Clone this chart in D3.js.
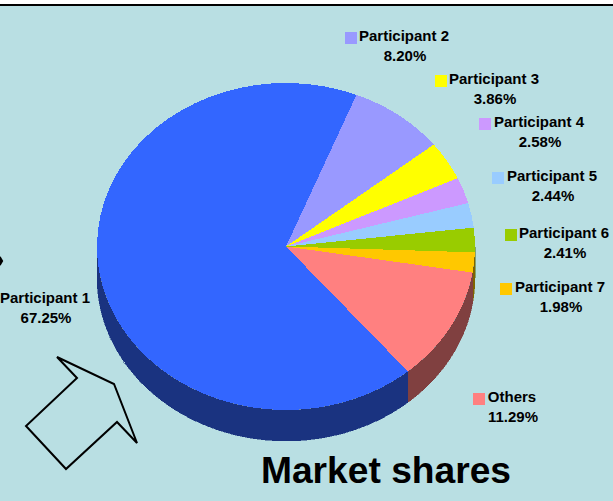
<!DOCTYPE html>
<html><head><meta charset="utf-8">
<script src="https://d3js.org/d3.v7.min.js"></script>
<style>html,body{margin:0;padding:0;background:#b9dfe3;overflow:hidden}svg{display:block}text{font-family:"Liberation Sans",Arial,sans-serif;font-weight:bold;fill:#000}</style>
</head><body><script>
const categories=["Participant 2","Participant 3","Participant 4","Participant 5","Participant 6","Participant 7","Others","Participant 1"];
const shares=[8.20,3.86,2.58,2.44,2.41,1.98,11.29,67.25];
const topColors=["#9999ff","#ffff00","#cc99ff","#99ccff","#99cc00","#ffc800","#ff8080","#3366ff"];
const sideColors=["#4d4d80","#808000","#664d80","#4d6680","#4d6600","#806400","#804040","#1a3380"];
const labelX=[404,494,539,552,564,560,512,45];
const labelY=[41,84,127,181,238,292,402,303];
const swatchX=[345,435,479,492,505,500,473,null];
const titleText="Market shares";
const arrowShape=[[57,357],[77,378],[26,426],[66,469],[117,422],[137,443],[114,384]];

const W=613,H=501,cx=286,cy=246.5,rx=189,ry=163.5,depth=31,start=21.9*Math.PI/180;
const svg=d3.select("body").append("svg").attr("width",W).attr("height",H);
svg.append("rect").attr("width",W).attr("height",H).attr("fill","#b9dfe3");
svg.append("rect").attr("width",W).attr("height",4).attr("fill","#fff");
svg.append("rect").attr("y",4).attr("width",W).attr("height",2).attr("fill","#000");

const arcs=d3.pie().sort(null).value(d=>d).startAngle(start).endAngle(start+2*Math.PI)(shares);
const px=a=>cx+rx*Math.sin(a), py=a=>cy-ry*Math.cos(a);
const line=d3.line();
const lo=Math.PI/2, hi=3*Math.PI/2;
// side walls: only the front half of the rim is visible
arcs.forEach((d,i)=>{
  [[d.startAngle,d.endAngle],[d.startAngle+2*Math.PI,d.endAngle+2*Math.PI]].forEach(([s,e])=>{
    const a0=Math.max(s,lo),a1=Math.min(e,hi);
    if(a1<=a0) return;
    const t=d3.scaleLinear().domain([0,80]).range([a0,a1]);
    const rim=d3.range(81).map(k=>t(k));
    const pts=rim.map(a=>[px(a),py(a)]).concat(rim.slice().reverse().map(a=>[px(a),py(a)+depth]));
    svg.append("path").attr("d",line(pts)+"Z").attr("fill",sideColors[i]).attr("stroke",sideColors[i]).attr("stroke-width",.5).attr("shape-rendering","crispEdges");
  });
});
// top face
const arc=d3.arc().innerRadius(0).outerRadius(rx);
const g=svg.append("g").attr("transform",`translate(${cx},${cy}) scale(1,${ry/rx})`).attr("shape-rendering","crispEdges");
g.selectAll("path").data(arcs).join("path").attr("d",arc).attr("fill",(d,i)=>topColors[i]);

// labels
categories.forEach((c,i)=>{
  const t=svg.append("text").attr("font-size",15).attr("text-anchor","middle");
  t.append("tspan").attr("x",labelX[i]).attr("y",labelY[i]).text(c);
  t.append("tspan").attr("x",labelX[i]+1).attr("y",labelY[i]+20).text(shares[i].toFixed(2)+"%");
  if(swatchX[i]!==null) svg.append("rect").attr("x",swatchX[i]).attr("y",labelY[i]-9).attr("width",12).attr("height",12).attr("fill",topColors[i]);
});
svg.append("text").attr("x",386).attr("y",483).attr("text-anchor","middle").attr("font-size",37.2).text(titleText);
svg.append("path").attr("d",line(arrowShape)+"Z").attr("fill","none").attr("stroke","#000").attr("stroke-width",2);
svg.append("path").attr("d",d3.symbol(d3.symbolDiamond,26)()).attr("transform","translate(0.5,261)").attr("fill","#000");
</script></body></html>
